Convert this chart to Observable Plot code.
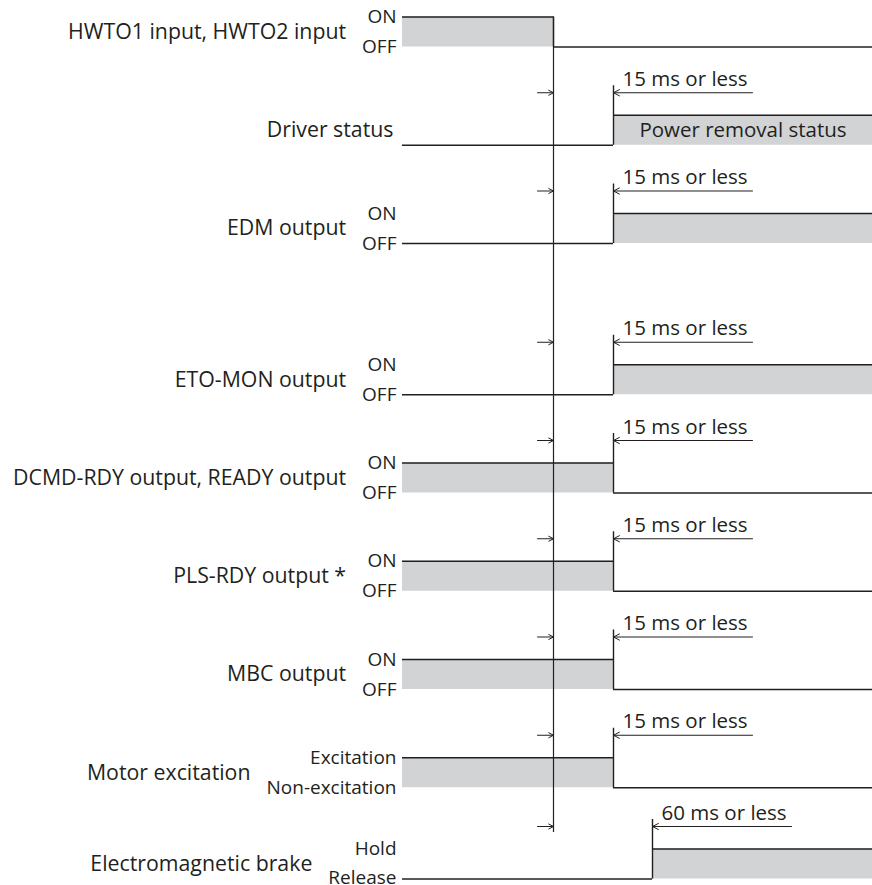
<!DOCTYPE html>
<html>
<head>
<meta charset="utf-8">
<script src="https://cdn.jsdelivr.net/npm/d3@7"></script>
<script src="https://cdn.jsdelivr.net/npm/@observablehq/plot@0.6"></script>
<style>
html, body { margin: 0; padding: 0; background: #fff; }
#chart svg { display: block; }
</style>
</head>
<body>
<div id="chart"></div>
<script>
// ---------------- data ----------------
const signals = [
  "HWTO1 input, HWTO2 input",
  "Driver status",
  "EDM output",
  "ETO-MON output",
  "DCMD-RDY output, READY output",
  "PLS-RDY output *",
  "MBC output",
  "Motor excitation",
  "Electromagnetic brake"
];
const highStates = ["ON", "", "ON", "ON", "ON", "ON", "ON", "Excitation", "Hold"];
const lowStates = ["OFF", "", "OFF", "OFF", "OFF", "OFF", "OFF", "Non-excitation", "Release"];
const initialLevel = [1, 0, 0, 0, 1, 1, 1, 1, 0];          // 1 = high (ON) before the transition
const switchDelayMs = [0, 15, 15, 15, 15, 15, 15, 15, 60]; // delay after HWTO input turns OFF
const delayLabels = ["", "15 ms or less", "15 ms or less", "15 ms or less", "15 ms or less",
  "15 ms or less", "15 ms or less", "15 ms or less", "60 ms or less"];
const statusTexts = ["", "Power removal status", "", "", "", "", "", "", ""];

// ---------------- layout ----------------
const W = 872, H = 885;
const INK = "#231f20", GRAY = "#d1d3d4";
const FONT = "'Open Sans', sans-serif";
const X0 = 402, XEND = 872;
const SUB_FS = 19;
// diagram is not drawn to scale: piecewise time -> horizontal position
const timeToPos = d3.scaleLinear().domain([0, 15, 60]).range([553, 613, 652]);
const laneLow = i => 46.5 + 98.25 * i + (i >= 3 ? 53 : 0) + (i >= 8 ? -7 : 0);
const LEVEL = 30;

const ctx = document.createElement("canvas").getContext("2d");
ctx.font = SUB_FS + "px 'Open Sans'";
const textW = s => ctx.measureText(s).width;

const rows = signals.map((name, i) => {
  const low = laneLow(i), high = low - LEVEL;
  const xT = timeToPos(switchDelayMs[i]);
  const l0 = initialLevel[i];
  const subW = Math.max(textW(highStates[i]), textW(lowStates[i]));
  return {
    name, i, low, high, mid: (low + high) / 2,
    arrow: high - 22.5,
    xT, x0: X0, xEnd: XEND,
    y0: l0 ? high : low,
    y1: l0 ? low : high,
    fillX1: l0 ? X0 : xT,
    fillX2: l0 ? xT : XEND,
    vTop: switchDelayMs[i] > 0 ? high - 29.5 : high,
    labelX: subW > 0 ? X0 - 6 - subW - 16 : X0 - 9,
    hi: highStates[i], lo: lowStates[i],
    delay: delayLabels[i], status: statusTexts[i],
    statusX: (xT + XEND) / 2
  };
});
const delayed = rows.filter(d => d.delay);
const refLine = [{x: timeToPos(0), y1: rows[0].high, y2: rows[rows.length - 1].arrow + 6}];

const plot = Plot.plot({
  width: W, height: H,
  margin: 0,
  x: {domain: [0, W], range: [0, W], axis: null},
  y: {domain: [0, H], range: [0, H], axis: null},
  style: {fontFamily: FONT, background: "#fff", color: INK},
  marks: [
    Plot.rect(rows, {x1: "fillX1", x2: "fillX2", y1: "high", y2: "low", fill: GRAY}),
    // reference line at the moment HWTO turns OFF
    Plot.ruleX(refLine, {x: "x", y1: "y1", y2: "y2", stroke: INK, strokeWidth: 1.2}),
    // signal levels
    Plot.ruleY(rows, {y: "y0", x1: "x0", x2: "xT", stroke: INK, strokeWidth: 1.6}),
    Plot.ruleY(rows, {y: "y1", x1: "xT", x2: "xEnd", stroke: INK, strokeWidth: 1.6}),
    Plot.ruleX(rows, {x: "xT", y1: "vTop", y2: "low", stroke: INK, strokeWidth: 1.4}),
    // delay arrows
    Plot.arrow(delayed, {x1: d => timeToPos(0) - 16, x2: () => timeToPos(0), y1: "arrow", y2: "arrow",
      stroke: INK, strokeWidth: 1, headLength: 10, headAngle: 55}),
    Plot.arrow(delayed, {x1: d => d.xT + 139, x2: "xT", y1: "arrow", y2: "arrow",
      stroke: INK, strokeWidth: 1, headLength: 10, headAngle: 55}),
    Plot.text(delayed, {x: d => d.xT + 9, y: d => d.arrow - 7, text: "delay", textAnchor: "start",
      lineAnchor: "bottom", fontSize: 20.5, fill: INK}),
    // status text inside the driver-status bar
    Plot.text(rows.filter(d => d.status), {x: "statusX", y: "mid", text: "status", fontSize: 20.5, fill: INK}),
    // state labels
    Plot.text(rows, {x: () => X0 - 6, y: "high", text: "hi", textAnchor: "end", fontSize: SUB_FS, fill: INK}),
    Plot.text(rows, {x: () => X0 - 6, y: d => d.low - (d.i === 8 ? 1.5 : 0), text: "lo", textAnchor: "end", fontSize: SUB_FS, fill: INK}),
    // signal names
    Plot.text(rows, {x: "labelX", y: "mid", text: "name", textAnchor: "end", fontSize: 21.3, fill: INK})
  ]
});
document.getElementById("chart").appendChild(plot);
</script>
</body>
</html>
